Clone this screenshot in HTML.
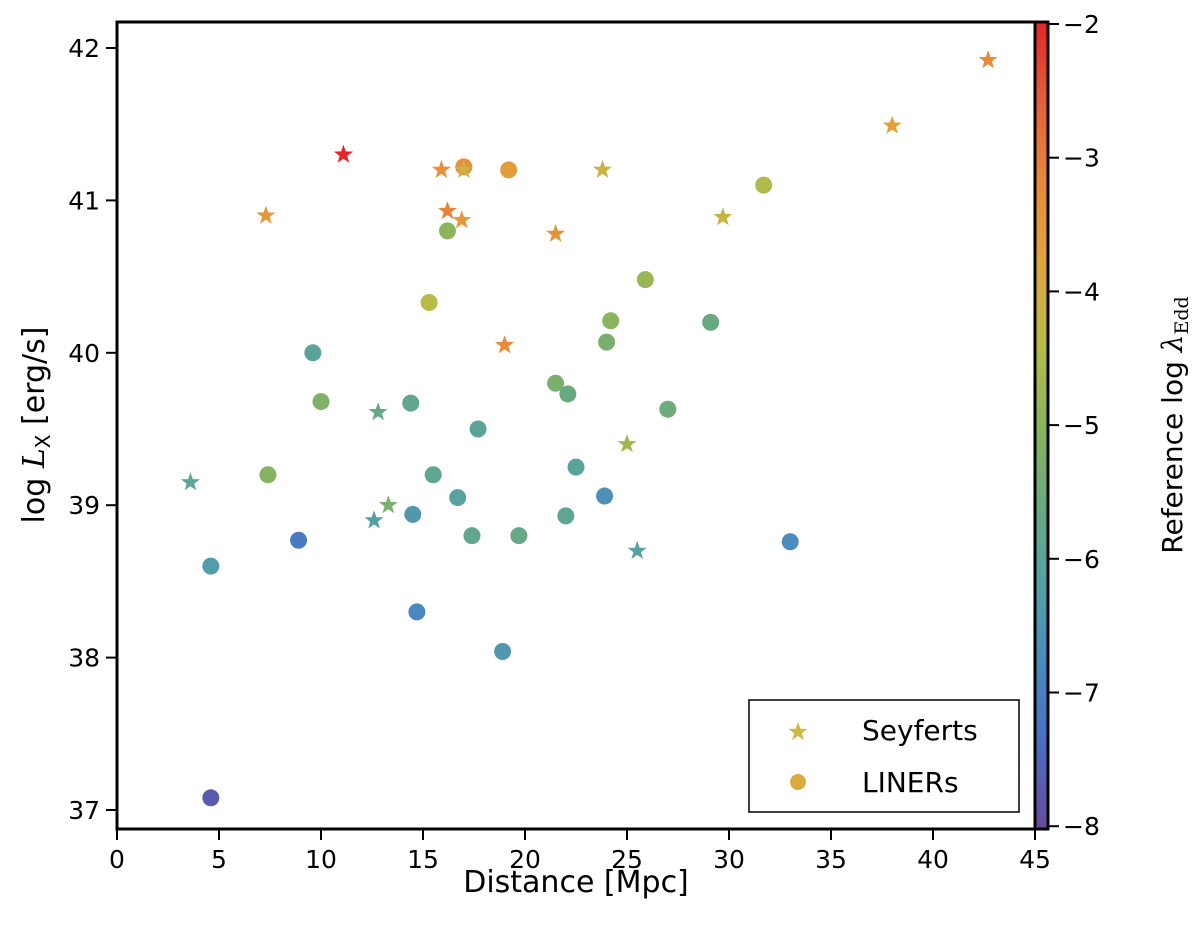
<!DOCTYPE html>
<html><head><meta charset="utf-8"><style>
body{margin:0;background:#fff}
svg text{font-family:"DejaVu Sans","Liberation Sans",sans-serif;fill:#000}
</style></head><body>
<svg id="chart" width="1200" height="936" xmlns="http://www.w3.org/2000/svg">
<defs>
<linearGradient id="cg" x1="0" y1="1" x2="0" y2="0">
<stop offset="0" stop-color="#6a4a9a"/><stop offset="0.1" stop-color="#4a6cc4"/>
<stop offset="0.2" stop-color="#4a88c0"/><stop offset="0.3" stop-color="#55a0a6"/>
<stop offset="0.4" stop-color="#68aa80"/><stop offset="0.5" stop-color="#8ab55c"/>
<stop offset="0.6" stop-color="#b8bb48"/><stop offset="0.7" stop-color="#e0a53a"/>
<stop offset="0.8" stop-color="#e88a3a"/><stop offset="0.9" stop-color="#e5603a"/>
<stop offset="1" stop-color="#e3262a"/>
</linearGradient>
</defs>
<g id="marks"></g>
<rect x="117" y="22" width="918" height="807" fill="none" stroke="#000" stroke-width="3"/>
<g id="xt"></g>
<g id="yt"></g>
<text x="576" y="892" font-size="30" text-anchor="middle">Distance [Mpc]</text>
<text transform="translate(44,425) rotate(-90)" font-size="30" text-anchor="middle">log <tspan font-family="DejaVu Serif" font-style="italic">L</tspan><tspan font-size="20" dy="6">X</tspan><tspan dy="-6"> [erg/s]</tspan></text>
<rect x="1036" y="22" width="12" height="807" fill="url(#cg)"/>
<rect x="1035" y="22" width="13" height="807" fill="none" stroke="#000" stroke-width="3"/>
<g id="ct"></g>
<text transform="translate(1182,425) rotate(-90)" font-size="28" text-anchor="middle">Reference log <tspan font-family="DejaVu Serif" font-style="italic">λ</tspan><tspan font-family="DejaVu Serif" font-size="19" dy="6">Edd</tspan></text>
<g>
<rect x="749" y="700" width="270" height="112" fill="#fff" stroke="#000" stroke-width="1.5"/>
<path id="lstar" fill="#c9bb45"/>
<circle cx="798" cy="782" r="8" fill="#d9ac3f"/>
<text x="862" y="740" font-size="28">Seyferts</text>
<text x="862" y="792" font-size="28">LINERs</text>
</g>
</svg>
<script>
const xTicks=[0,5,10,15,20,25,30,35,40,45];
const yTicks=[37,38,39,40,41,42];
const cTicks=[-2,-3,-4,-5,-6,-7,-8];
const starX=[11.1,7.3,15.9,17.0,16.2,16.9,21.5,23.8,29.7,38.0,42.7,19.0,25.0,12.8,13.3,12.6,3.6,25.5];
const starY=[41.3,40.9,41.2,41.2,40.93,40.87,40.78,41.2,40.89,41.49,41.92,40.05,39.4,39.61,39.0,38.9,39.15,38.7];
const starC=[-2.0,-3.5,-3.3,-4.1,-3.1,-3.5,-3.4,-4.2,-4.2,-3.7,-3.2,-3.2,-4.7,-5.7,-5.3,-6.2,-5.9,-6.1];
const circX=[17.0,19.2,16.2,15.3,31.7,25.9,24.2,24.0,29.1,9.6,10.0,14.4,21.5,22.1,27.0,17.7,7.4,15.5,22.5,16.7,14.5,17.4,19.7,22.0,23.9,8.9,4.6,14.7,18.9,33.0,4.6];
const circY=[41.22,41.2,40.8,40.33,41.1,40.48,40.21,40.07,40.2,40.0,39.68,39.67,39.8,39.73,39.63,39.5,39.2,39.2,39.25,39.05,38.94,38.8,38.8,38.93,39.06,38.77,38.6,38.3,38.04,38.76,37.08];
const circC=[-3.3,-3.6,-5.0,-4.4,-4.5,-4.8,-5.0,-5.3,-5.6,-6.0,-5.2,-5.8,-5.3,-5.6,-5.5,-6.0,-5.1,-5.9,-6.0,-6.1,-6.4,-5.8,-5.7,-5.9,-6.6,-7.1,-6.3,-6.8,-6.4,-6.7,-7.7];
const NS="http://www.w3.org/2000/svg";
const sx=v=>117+v*20.4, sy=v=>48+(42-v)*152.4, sc=v=>24+(-2-v)*133.7;
const stops=[[0,[106,74,154]],[0.1,[74,108,196]],[0.2,[74,136,192]],[0.3,[85,160,166]],[0.4,[104,170,128]],[0.5,[138,181,92]],[0.6,[184,187,72]],[0.7,[224,165,58]],[0.8,[232,138,58]],[0.9,[229,96,58]],[1,[227,38,42]]];
function cmap(v){let t=Math.max(0,Math.min(1,(v+8)/6));for(let i=1;i<stops.length;i++){if(t<=stops[i][0]){const a=stops[i-1],b=stops[i],f=(t-a[0])/(b[0]-a[0]);return 'rgb('+a[1].map((c,k)=>Math.round(c+(b[1][k]-c)*f)).join(',')+')';}}return 'rgb(227,38,42)';}
function starPath(cx,cy,R){const r=R*0.4;let d='';for(let i=0;i<10;i++){const a=-Math.PI/2+i*Math.PI/5,rr=i%2?r:R;d+=(i?'L':'M')+(cx+rr*Math.cos(a)).toFixed(1)+','+(cy+rr*Math.sin(a)).toFixed(1);}return d+'Z';}
document.getElementById('lstar').setAttribute('d',starPath(798,732,10));
const g=document.getElementById('marks');
circX.forEach((x,i)=>{const c=document.createElementNS(NS,'circle');


c.setAttribute('cx',sx(x));c.setAttribute('cy',sy(circY[i]));c.setAttribute('r',8.5);c.setAttribute('fill',cmap(circC[i]));g.appendChild(c);});
starX.forEach((x,i)=>{const p=document.createElementNS(NS,'path');


p.setAttribute('d',starPath(sx(x),sy(starY[i]),10));p.setAttribute('fill',cmap(starC[i]));g.appendChild(p);});
function line(par,x1,y1,x2,y2){const l=document.createElementNS(NS,'line');l.setAttribute('x1',x1);l.setAttribute('y1',y1);l.setAttribute('x2',x2);l.setAttribute('y2',y2);l.setAttribute('stroke','#000');l.setAttribute('stroke-width',2);par.appendChild(l);}
function text(par,x,y,s,anchor,name){const t=document.createElementNS(NS,'text');


t.setAttribute('x',x);t.setAttribute('y',y);t.setAttribute('font-size',25);t.setAttribute('text-anchor',anchor);t.textContent=s;par.appendChild(t);}
const xt=document.getElementById('xt');
xTicks.forEach(v=>{line(xt,sx(v),829,sx(v),840);text(xt,sx(v),868,String(v),'middle','x-tick-label');});
const yt=document.getElementById('yt');
yTicks.forEach(v=>{line(yt,106,sy(v),117,sy(v));text(yt,100,sy(v)+9,String(v),'end','y-tick-label');});
const ct=document.getElementById('ct');
cTicks.forEach(v=>{line(ct,1048,sc(v),1059,sc(v));text(ct,1063,sc(v)+9,'\u2212'+Math.abs(v),'start','colorbar-tick-label');});
</script>
</body></html>
